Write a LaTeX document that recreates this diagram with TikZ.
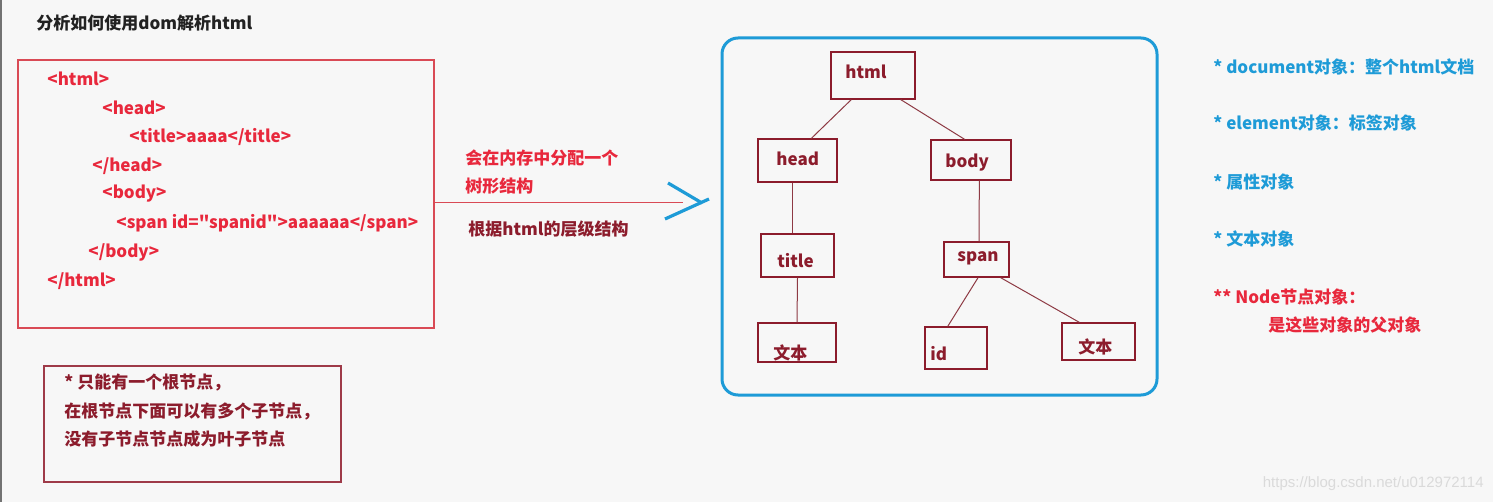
\documentclass[tikz,border=0pt]{standalone}
\usepackage{fontspec}
\setmainfont{Noto Sans CJK SC}[Ligatures=TeXOff]
\newfontfamily\wmfont{Liberation Sans}
\usepackage{tikz}
\usetikzlibrary{calc}

\definecolor{bgcol}{HTML}{F7F7F7}
\definecolor{codered}{HTML}{E8283C}
\definecolor{codeline}{HTML}{D94A55}
\definecolor{maroon}{HTML}{8C1C2C}
\definecolor{treeline}{HTML}{8E3A44}
\definecolor{skyblue}{HTML}{1E9BD7}
\definecolor{notered}{HTML}{9E3A48}
\definecolor{darktext}{HTML}{222222}
\definecolor{markgray}{HTML}{DADADA}

\begin{document}
\begin{tikzpicture}[x=0.5pt, y=-0.5pt,
  every node/.style={font=\fontsize{8.5pt}{10pt}\selectfont\bfseries},
  txt/.style={anchor=west, inner sep=0pt},
  treebox/.style={draw=maroon, line width=0.6pt, inner sep=0pt},
  treetxt/.style={txt, text=maroon},
  codetxt/.style={txt, text=codered},
  bluetxt/.style={txt, text=skyblue},
  branch/.style={draw=treeline, line width=0.5pt}]

\fill[bgcol] (0,0) rectangle (1493,502);
\useasboundingbox (0,0) rectangle (1493,502);
\fill[black!55] (0,0) rectangle (2,502);

\node[txt, text=darktext] (heading) at (36,23) {分析如何使用dom解析html};

%Code
\node[draw=codeline, line width=0.6pt, minimum width=208pt, minimum height=134pt, inner sep=0pt] (code) at (226,194) {};
\node[codetxt] (l1) at (47,79) {<html>};
\node[codetxt] (l2) at (102,108) {<head>};
\node[codetxt] (l3) at (129,137) {<title>aaaa</title>};
\node[codetxt] (l4) at (92,166) {</head>};
\node[codetxt] (l5) at (102,194) {<body>};
\node[codetxt] (l6) at (116,223) {<span id="spanid">aaaaaa</span>};
\node[codetxt] (l7) at (88,252) {</body>};
\node[codetxt] (l8) at (47,281) {</html>};

%Arrow
\coordinate (tip) at (683,203);
\draw[codeline, line width=0.5pt] (code.east |- tip) -- (tip);
\draw[skyblue, line width=1.6pt] (tip) ++(-15,-20) -- ++(34,20);
\draw[skyblue, line width=1.6pt] (tip) ++(-18,16) -- ++(44,-20);
\node[codetxt] (m1) at (465,158) {会在内存中分配一个};
\node[codetxt] (m2) at (465,186) {树形结构};
\node[treetxt] (m3) at (468,229) {根据html的层级结构};

%Tree
\node[draw=skyblue, line width=1.5pt, rounded corners=8pt, minimum width=217.5pt, minimum height=178.5pt] (tree) at (939.5,216.5) {};
\node[treebox, minimum width=42pt, minimum height=23.5pt] (html) at (873,75.5) {};
\node[treebox, minimum width=39.5pt, minimum height=21.5pt] (head) at (797.5,160.5) {};
\node[treebox, minimum width=40pt, minimum height=20pt] (body) at (971,160) {};
\node[treebox, minimum width=36.5pt, minimum height=21.5pt] (title) at (797.5,255.5) {};
\node[treebox, minimum width=32.5pt, minimum height=17.5pt] (span) at (976.5,259.5) {};
\node[treebox, minimum width=39pt, minimum height=19.5pt] (text1) at (797,342.5) {};
\node[treebox, minimum width=31pt, minimum height=21pt] (id) at (956,348) {};
\node[treebox, minimum width=36.5pt, minimum height=18.5pt] (text2) at (1098.5,341.5) {};

\node[treetxt] at (845,72) {html};
\node[treetxt] at (776,159) {head};
\node[treetxt] at (945,163) {body};
\node[treetxt] at (777,261) {title};
\node[treetxt] at (957,258) {span};
\node[treetxt] at (773,353) {文本};
\node[treetxt] at (930,354) {id};
\node[treetxt] at (1078,347) {文本};

\draw[branch] (html.228) -- (head.58);
\draw[branch] (html.319) -- (body.107);
\draw[branch] (head.258) -- (title.102);
\draw[branch] (body.292) -- (span.82);
\draw[branch] (title.south) -- (text1.north);
\draw[branch] (span.275) -- (id.111);
\draw[branch] (span.323) -- (text2.135);

%Objects
\node[bluetxt] (o1) at (1213,67) {* document对象：整个html文档};
\node[bluetxt] (o2) at (1213,123) {* element对象：标签对象};
\node[bluetxt] (o3) at (1213,182) {* 属性对象};
\node[bluetxt] (o4) at (1213,239) {* 文本对象};
\node[codetxt] (o5) at (1213,297) {** Node节点对象：};
\node[codetxt] (o6) at (1268,325) {是这些对象的父对象};

%Note
\node[draw=notered, line width=0.6pt, minimum width=148.5pt, minimum height=58pt, inner sep=0pt] (note) at (192.5,424) {};
\node[treetxt] (n1) at (64,383) {* 只能有一个根节点，};
\node[treetxt] (n2) at (64,412) {在根节点下面可以有多个子节点，};
\node[treetxt] (n3) at (64,439) {没有子节点节点成为叶子节点};

\node[anchor=east, inner sep=0pt, text=markgray, font=\wmfont\fontsize{7.5pt}{9pt}\selectfont] (mark) at (1484,484) {https://blog.csdn.net/u012972114};

\end{tikzpicture}
\end{document}
